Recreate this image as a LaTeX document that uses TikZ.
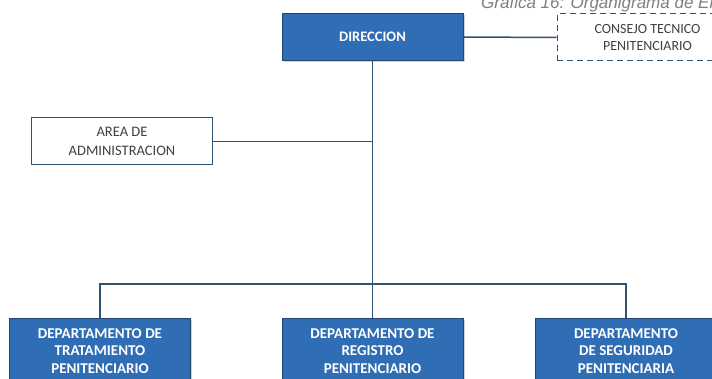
\documentclass[tikz,border=0pt]{standalone}
\usepackage{fontspec}
\setmainfont{Carlito}
\newfontfamily\captionfont{Liberation Sans}
\usetikzlibrary{positioning,shadows}
\definecolor{dirblue}{HTML}{2F6DB5}
\definecolor{dirline}{HTML}{24466F}
\definecolor{wire}{HTML}{2F5373}
\definecolor{capgray}{HTML}{7F7F7F}
\tikzset{
  unitbox/.style={rectangle, draw=dirline, fill=dirblue, line width=1pt, text=white,
                  font=\bfseries\fontsize{15}{17.5}\selectfont, align=center, minimum width=181pt,
                  drop shadow={shadow xshift=1.5pt, shadow yshift=-1.5pt, opacity=0.35}},
  staffbox/.style={rectangle, draw=wire, fill=white, line width=1pt, text=black!75,
                   font=\fontsize{14.5}{18.5}\selectfont, align=center, minimum width=181pt,
                   minimum height=47pt},
  advbox/.style={staffbox, font=\fontsize{14}{17.5}\selectfont, dash pattern=on 6pt off 4pt},
  wireline/.style={draw=wire, line width=1.5pt}
}
\begin{document}
\begin{tikzpicture}[x=1pt, y=-1pt]
 \clip (0,0) rectangle (712,379);
 \useasboundingbox (0,0) rectangle (712,379);
 % caption, cut at the top of the page
 \node[anchor=base west, inner sep=0pt, text=capgray,
       font=\captionfont\itshape\fontsize{17}{17}\selectfont] (cap) at (481,8.5) {Gráfica 16: Organigrama de El};
 % top level
 \node[unitbox, minimum height=47pt, font=\bfseries\fontsize{14.5}{17}\selectfont] (dir) at (372.5,37) {DIRECCION};
 \node[advbox] (cons) at (647.5,37.5) {CONSEJO TECNICO\\PENITENCIARIO};
 \node[staffbox] (adm) at (122,141.5) {AREA DE\\ADMINISTRACION};
 % departments
 \node[unitbox, minimum height=66pt] (trat) at (100,351) {DEPARTAMENTO DE\\TRATAMIENTO\\PENITENCIARIO};
 \node[unitbox, minimum height=66pt] (reg) at (372.5,351) {DEPARTAMENTO DE\\REGISTRO\\PENITENCIARIO};
 \node[unitbox, minimum height=66pt] (seg) at (626,351) {DEPARTAMENTO\\DE SEGURIDAD\\PENITENCIARIA};
 \coordinate (bus) at (372.5,284);
 % connectors
 \draw[wireline] (dir.east) -- (cons.west);
 \draw[wireline] (dir.south) -- (bus);
 \draw[wireline] (adm.east) -- (adm.east -| dir.south);
 \draw[wireline] (trat.north) |- (bus) -| (seg.north);
 \draw[wireline] (bus) -- (reg.north);
\end{tikzpicture}
\end{document}
